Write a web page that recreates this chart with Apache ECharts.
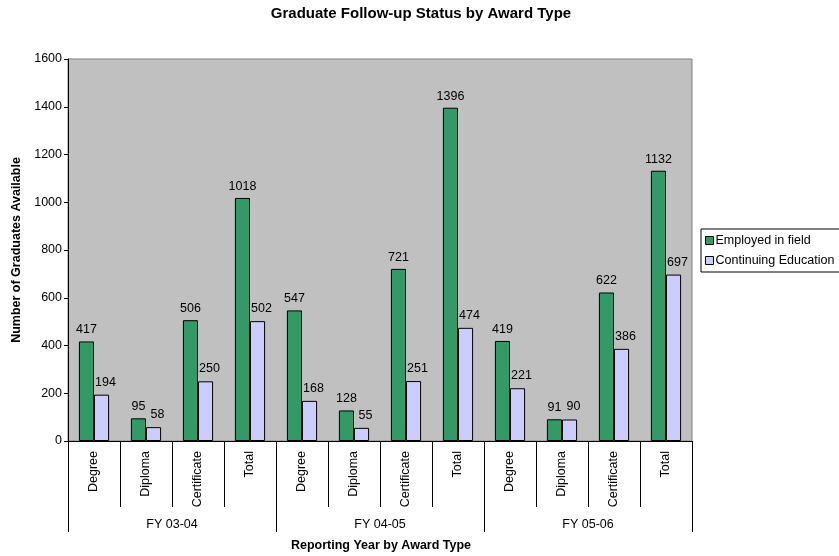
<!DOCTYPE html>
<html><head><meta charset="utf-8">
<script src="https://cdn.jsdelivr.net/npm/echarts@6/dist/echarts.min.js"></script>
<style>html,body{margin:0;padding:0;background:#fff}#c{width:839px;height:556px}</style>
</head><body><div id="c"></div>
<script>
const categories = ['Degree','Diploma','Certificate','Total','Degree','Diploma','Certificate','Total','Degree','Diploma','Certificate','Total'];
const groups = ['FY 03-04','FY 04-05','FY 05-06'];
const employed = [417, 95, 506, 1018, 547, 128, 721, 1396, 419, 91, 622, 1132];
const continuing = [194, 58, 250, 502, 168, 55, 251, 474, 221, 90, 386, 697];
const yTicks = [0,200,400,600,800,1000,1200,1400,1600];

const FONT = '"Liberation Sans", Arial, sans-serif';
const FS = 12.5;
const chart = echarts.init(document.getElementById('c'), null, {renderer:'canvas'});
chart.setOption({
  animation:false,
  title:[
    {text:'Graduate Follow-up Status by Award Type', left:421, top:6, padding:0, textAlign:'center',
     textStyle:{fontSize:15, fontWeight:'bold', fontFamily:FONT, color:'#000'}},
    {text:'Reporting Year by Award Type', left:381, top:539, padding:0, textAlign:'center',
     textStyle:{fontSize:FS, fontWeight:'bold', fontFamily:FONT, color:'#000'}}
  ],
  legend:{
    orient:'vertical', left:701, top:229, width:150,
    data:['Employed in field','Continuing Education'],
    icon:'rect', itemWidth:8, itemHeight:8, itemGap:7,
    padding:[5,14,5,4], borderColor:'#000', borderWidth:1,
    textStyle:{fontSize:FS, fontFamily:FONT, color:'#000', padding:[0,0,0,-3]},
    itemStyle:{borderColor:'#000', borderWidth:1}
  },
  grid:{left:68, top:59, right:147, bottom:115, show:true, backgroundColor:'#C0C0C0', borderColor:'#808080', borderWidth:1},
  xAxis:[
    {type:'category', data:categories, position:'bottom',
     axisLine:{show:true, lineStyle:{color:'#000', width:1}},
     axisTick:{show:true, length:66, lineStyle:{color:'#000'}},
     axisLabel:{rotate:90, fontSize:FS, fontFamily:FONT, color:'#000', margin:10, interval:0},
     splitLine:{show:false}},
    {type:'category', data:groups, position:'bottom',
     axisLine:{show:false},
     axisTick:{show:true, length:91, lineStyle:{color:'#000'}},
     axisLabel:{fontSize:FS, fontFamily:FONT, color:'#000', margin:77, interval:0},
     splitLine:{show:false}}
  ],
  yAxis:{type:'value', min:yTicks[0], max:yTicks[yTicks.length-1], interval:200,
    name:'Number of Graduates Available', nameLocation:'middle', nameGap:42,
    nameTextStyle:{fontSize:FS, fontWeight:'bold', fontFamily:FONT, color:'#000'},
    axisLine:{show:true, lineStyle:{color:'#000'}},
    axisTick:{show:true, length:4, lineStyle:{color:'#000'}},
    axisLabel:{fontSize:FS, fontFamily:FONT, color:'#000', margin:6, formatter:v => String(v)},
    splitLine:{show:false}},
  series:[
    {name:'Employed in field', type:'bar', data:employed, xAxisIndex:0, barGap:'0%', barCategoryGap:'42%',
     itemStyle:{color:'#339966', borderColor:'#000', borderWidth:1},
     label:{show:true, position:'top', color:'#000', fontSize:FS, fontFamily:FONT, distance:5}},
    {name:'Continuing Education', type:'bar', data:continuing, xAxisIndex:0, barGap:'0%', barCategoryGap:'42%',
     itemStyle:{color:'#CCCCFF', borderColor:'#000', borderWidth:1},
     label:{show:true, position:'top', color:'#000', fontSize:FS, fontFamily:FONT, distance:6, offset:[4,0]}}
  ]
});
</script></body></html>
